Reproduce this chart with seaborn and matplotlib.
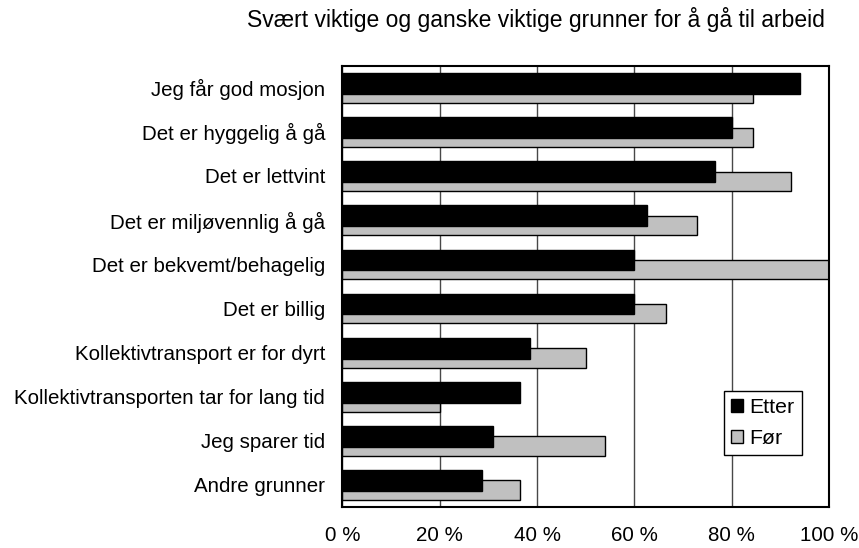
import numpy as np
import matplotlib
matplotlib.use("Agg")
import matplotlib.pyplot as plt
import seaborn as sns
from matplotlib.patches import Patch

# reasons, top to bottom
grunner = [
    "Jeg får god mosjon",
    "Det er hyggelig å gå",
    "Det er lettvint",
    "Det er miljøvennlig å gå",
    "Det er bekvemt/behagelig",
    "Det er billig",
    "Kollektivtransport er for dyrt",
    "Kollektivtransporten tar for lang tid",
    "Jeg sparer tid",
    "Andre grunner",
]
etter = [94.0, 80.1, 76.6, 62.7, 60.0, 60.0, 38.5, 36.5, 30.9, 28.6]
foer = [84.4, 84.4, 92.3, 72.8, 100.0, 66.5, 50.0, 20.0, 54.0, 36.4]
x_ticks = [0, 20, 40, 60, 80, 100]
x_labels = ["0 %", "20 %", "40 %", "60 %", "80 %", "100 %"]
tittel = "Svært viktige og ganske viktige grunner for å gå til arbeid"

sns.set_theme(style="white")
plt.rcParams['font.family'] = ['Liberation Sans', 'DejaVu Sans']
plt.rcParams['text.color'] = 'black'
plt.rcParams['xtick.color'] = 'black'
plt.rcParams['ytick.color'] = 'black'

fig = plt.figure(figsize=(8.59, 5.48), dpi=100)
ax = fig.add_axes([0.3987, 0.0754, 0.5663, 0.8047])

pos = np.arange(len(grunner))
# grey "before" bars first, black "after" bars overlap on top
sns.barplot(x=foer, y=pos + 0.125, orient="h", native_scale=True, color="#c0c0c0",
            saturation=1, width=0.44, edgecolor="black", linewidth=1,
            errorbar=None, ax=ax)
sns.barplot(x=etter, y=pos - 0.095, orient="h", native_scale=True, color="black",
            saturation=1, width=0.47, edgecolor="black", linewidth=1,
            errorbar=None, ax=ax)

ax.set_xlim(0, 100)
ax.set_ylim(len(grunner) - 0.5, -0.5)
ax.set_xticks(x_ticks, x_labels, fontsize=14.8)
ax.set_yticks(pos, grunner, fontsize=14.8)
ax.set_xlabel("")
ax.set_ylabel("")
ax.tick_params(axis="y", length=0, pad=12.5, labelcolor="black")
ax.tick_params(axis="x", length=0, pad=14, labelcolor="black")
ax.xaxis.grid(True, color="#484848", linewidth=1)
ax.set_axisbelow(True)
for sp in ax.spines.values():
    sp.set_visible(True)
    sp.set_color("black")
    sp.set_linewidth(1.5)

leg = ax.legend(handles=[Patch(facecolor="black", edgecolor="black", label="Etter"),
                         Patch(facecolor="#c0c0c0", edgecolor="black", label="Før")],
                loc="upper left", bbox_to_anchor=(0.784, 0.263), borderaxespad=0,
                frameon=True, fancybox=False, edgecolor="black", framealpha=1,
                handlelength=0.55, handleheight=0.55, handletextpad=0.3,
                labelspacing=0.55, borderpad=0.35, fontsize=15.3)
leg.get_frame().set_linewidth(1)
for t in leg.get_texts():
    t.set_color("black")

fig.text(0.624, 0.965, tittel, ha="center", va="center", fontsize=16.5, color="black")

fig.savefig("out.png", dpi=100)
